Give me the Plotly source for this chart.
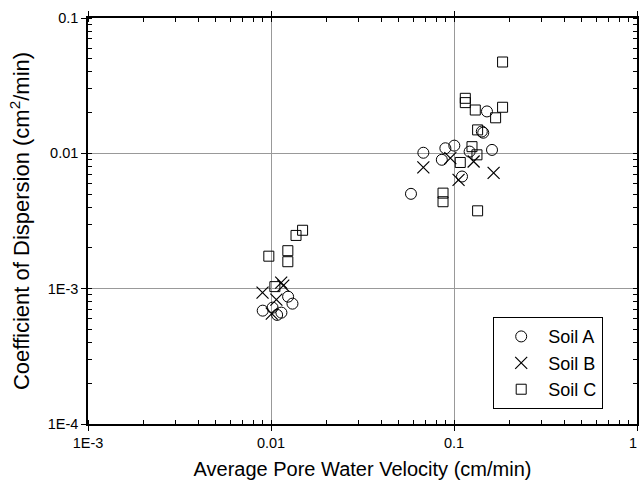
import plotly.graph_objects as go

# Soil A (circles)
soil_a_x = [0.00901, 0.0102, 0.0114, 0.0124, 0.0131, 0.0108,
            0.0582, 0.0680, 0.0858, 0.0897, 0.1004, 0.1217, 0.1613, 0.1106, 0.1419, 0.1445, 0.1514]
soil_a_y = [0.000688, 0.000724, 0.000665, 0.000873, 0.000775, 0.000640,
            0.00502, 0.0101, 0.00896, 0.0109, 0.0114, 0.0103, 0.0106, 0.00674, 0.0145, 0.0142, 0.0204]

# Soil B (crosses)
soil_b_x = [0.00899, 0.01137, 0.01167, 0.0107, 0.0101,
            0.0680, 0.0955, 0.1280, 0.1646, 0.1059]
soil_b_y = [0.000934, 0.001107, 0.001052, 0.000830, 0.000654,
            0.00788, 0.00922, 0.00870, 0.00718, 0.00637]

# Soil C (squares)
soil_c_x = [0.00973, 0.0105, 0.01236, 0.01236, 0.0137, 0.01488,
            0.1843, 0.1153, 0.1153, 0.1307, 0.1843, 0.1688, 0.1346, 0.1254, 0.1335, 0.1082, 0.0871, 0.0871, 0.1346]
soil_c_y = [0.001738, 0.001035, 0.001908, 0.001582, 0.002474, 0.002702,
            0.0473, 0.0255, 0.0237, 0.0209, 0.0219, 0.0183, 0.0149, 0.0112, 0.00975, 0.00856, 0.00508, 0.00439, 0.00376]

x_tickvals = [0.001, 0.01, 0.1, 1]
x_ticktext = ["1E-3", "0.01", "0.1", "1\u2007"]
y_tickvals = [0.0001, 0.001, 0.01, 0.1]
y_ticktext = ["1E-4", "1E-3", "0.01", "0.1"]

FONT = "Liberation Sans"

fig = go.Figure()
fig.add_trace(go.Scatter(x=soil_a_x, y=soil_a_y, mode="markers", name="Soil A",
                         marker=dict(symbol="circle-open", size=11, color="black",
                                     line=dict(width=1, color="black"))))
fig.add_trace(go.Scatter(x=soil_b_x, y=soil_b_y, mode="markers", name="Soil B",
                         marker=dict(symbol="x-thin-open", size=12, color="black",
                                     line=dict(width=1.2, color="black"))))
fig.add_trace(go.Scatter(x=soil_c_x, y=soil_c_y, mode="markers", name="Soil C",
                         marker=dict(symbol="square-open", size=10, color="black",
                                     line=dict(width=1, color="black"))))

axis_common = dict(
    type="log",
    showline=True, linecolor="black", linewidth=1.5, mirror="ticks",
    ticks="outside", ticklen=5, tickwidth=1.2, tickcolor="black",
    showgrid=True, gridcolor="#999999", gridwidth=1,
    minor=dict(dtick="D1", ticks="inside", ticklen=4, tickwidth=1, tickcolor="black", showgrid=False),
    tickfont=dict(family=FONT, size=14.5, color="black"),
    zeroline=False,
    automargin=False,
    ticklabeloverflow="allow",
)

fig.update_xaxes(**axis_common, range=[-3, 0], tickvals=x_tickvals, ticktext=x_ticktext,
                 title=dict(text="Average Pore Water Velocity (cm/min)",
                            font=dict(family=FONT, size=20, color="black"), standoff=12))
fig.update_yaxes(**axis_common, range=[-4, -1], tickvals=y_tickvals, ticktext=y_ticktext,
                 title=dict(text="Coefficient of Dispersion (cm<sup>2</sup>/min)",
                            font=dict(family=FONT, size=22, color="black"), standoff=12))

fig.update_layout(
    width=639, height=489,
    margin=dict(l=88, r=2, t=18, b=65),
    paper_bgcolor="white", plot_bgcolor="white",
    showlegend=True,
    legend=dict(x=0.7377, y=0.2635, xanchor="left", yanchor="top",
                bgcolor="white", bordercolor="black", borderwidth=1.2,
                font=dict(family=FONT, size=18, color="black"),
                itemwidth=44,
                tracegroupgap=0),
)

fig.write_html("out.html")
